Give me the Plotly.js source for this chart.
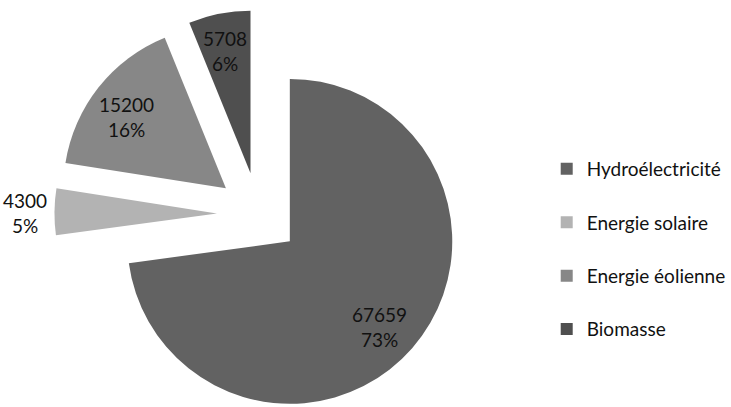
<!DOCTYPE html>
<html>
<head>
<meta charset="utf-8">
<script src="https://cdn.plot.ly/plotly-3.0.1.min.js"></script>
<style>
  html, body { margin: 0; padding: 0; background: #ffffff; overflow: hidden; }
  #wrap { width: 731px; height: 407px; overflow: hidden; position: relative; }
  #chart { width: 731px; height: 420px; }
</style>
</head>
<body>
<div id="wrap"><div id="chart"></div></div>
<script>
// Data
const labels = ['Hydroélectricité', 'Energie solaire', 'Energie éolienne', 'Biomasse'];
const values = [67659, 4300, 15200, 5708];
const colors = ['#626262', '#b3b3b3', '#878787', '#4f4f4f'];
// label anchor positions (pixels in the 731x420 figure)
const labelPosPx = [[383, 327], [25, 213], [128, 117], [227, 51]];

const W = 731, H = 420;
const FONT = 'Lato, "Open Sans", sans-serif';
const total = values.reduce((a, b) => a + b, 0);

const mainPie = {
  type: 'pie',
  labels: labels,
  values: values,
  sort: false,
  direction: 'clockwise',
  rotation: 0,
  pull: 0.256,
  marker: { colors: colors, line: { width: 0 } },
  textinfo: 'none',
  hoverinfo: 'skip',
  showlegend: false,
  domain: { x: [55 / W, 467 / W], y: [0, 412 / H] }
};

// Legend entries (one per category, zero-size pies)
const legendTraces = labels.map((lab, i) => ({
  type: 'pie',
  labels: [lab],
  values: [values[i]],
  marker: { colors: [colors[i]], line: { width: 0 } },
  textinfo: 'none',
  hoverinfo: 'skip',
  showlegend: true,
  legendgroup: 'g' + i,
  domain: { x: [0.5, 0.5001], y: [0.3, 0.3001] }
}));

// Data labels: value and rounded percentage
const annotations = values.map((v, i) => ({
  xref: 'paper', yref: 'paper',
  x: labelPosPx[i][0] / W,
  y: 1 - labelPosPx[i][1] / H,
  xanchor: 'center', yanchor: 'middle',
  showarrow: false,
  align: 'center',
  text: v + '<br>' + Math.round(v / total * 100) + '%',
  font: { family: FONT, size: 19, color: '#111111' }
}));

const layout = {
  width: W,
  height: H,
  margin: { l: 0, r: 0, t: 0, b: 0 },
  paper_bgcolor: '#ffffff',
  plot_bgcolor: '#ffffff',
  showlegend: true,
  annotations: annotations,
  legend: {
    x: 552 / W, xanchor: 'left',
    y: 1 - 150 / H, yanchor: 'top',
    traceorder: 'grouped',
    tracegroupgap: 25.7,
    font: { family: FONT, size: 19, color: '#111111' },
    bgcolor: 'rgba(0,0,0,0)'
  }
};

Plotly.newPlot('chart', [mainPie].concat(legendTraces), layout, { displayModeBar: false, staticPlot: true });
</script>
</body>
</html>
